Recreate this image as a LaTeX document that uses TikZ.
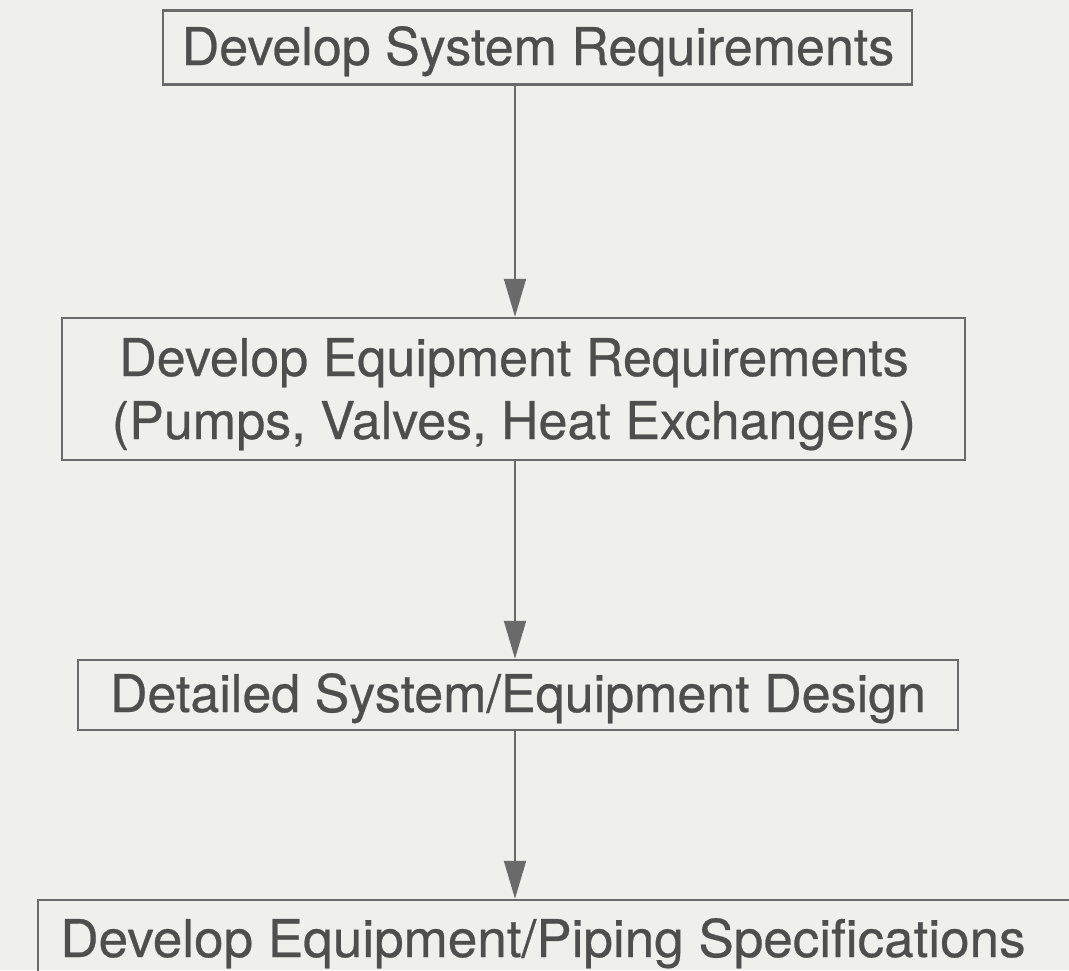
\documentclass[tikz,border=0pt]{standalone}
\usepackage{fontspec}
\setmainfont{TeX Gyre Heros}
\newfontfamily\boxfont{TeX Gyre Heros}[UprightFeatures={FakeBold=0.5}]
\usetikzlibrary{arrows.meta}
\definecolor{paper}{HTML}{EFEFEC}
\definecolor{ink}{HTML}{4E4E4E}
\definecolor{frame}{HTML}{6A6A6A}
\begin{document}
\begin{tikzpicture}[x=1pt,y=-1pt,
  stepbox/.style={draw=frame, line width=2.5pt, inner sep=0pt},
  steptext/.style={text=ink, font=\boxfont\fontsize{52}{62}\selectfont, inner sep=0pt, anchor=base},
  flow/.style={draw=frame, line width=2pt, -{Triangle[length=38pt,width=22pt]}}]
  \useasboundingbox (0,0) rectangle (1069,970);
  \clip (0,0) rectangle (1069,970);
  \fill[paper] (0,0) rectangle (1069,970);

  % boxes
  \node[stepbox, minimum width=749pt, minimum height=74pt] (b1) at (537.5,47.5) {};
  \node[stepbox, minimum width=903pt, minimum height=142pt] (b2) at (513.5,389) {};
  \node[stepbox, minimum width=880pt, minimum height=70pt] (b3) at (518,695) {};
  \node[stepbox, minimum width=1070pt, minimum height=100pt] (b4) at (573,950) {};

  % labels
  \node[steptext] (t1) at (538,65) {Develop System Requirements};
  \node[steptext] (t2a) at (514,376) {Develop Equipment Requirements};
  \node[steptext] (t2b) at (514,439) {(Pumps, Valves, Heat Exchangers)};
  \node[steptext] (t3) at (518,712) {Detailed System/Equipment Design};
  \node[steptext, xscale=1.02] (t4) at (543,957) {Develop Equipment/Piping Specifications};

  % connectors
  \coordinate (ax) at (515,0);
  \draw[flow] (b1.south -| ax) -- (b2.north -| ax);
  \draw[flow] (b2.south -| ax) -- (b3.north -| ax);
  \draw[flow] (b3.south -| ax) -- (b4.north -| ax);
\end{tikzpicture}
\end{document}
